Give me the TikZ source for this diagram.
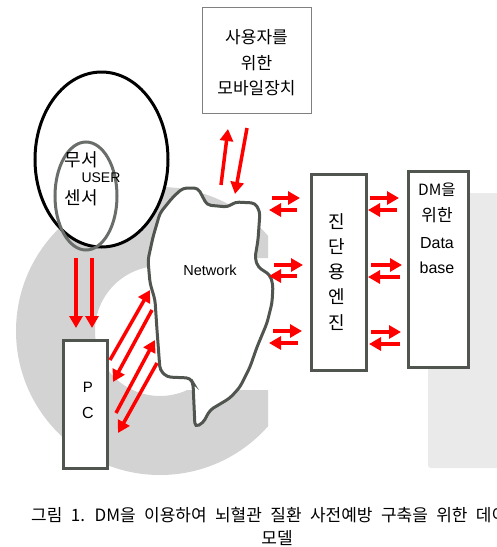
\documentclass[tikz,border=0pt]{standalone}
\usepackage{fontspec}
\setmainfont{Noto Sans CJK KR}
\newfontfamily\capfont[WordSpace=2.2]{Noto Sans CJK KR}
\newfontfamily\latfont{Liberation Sans}
\usetikzlibrary{arrows.meta}
\definecolor{boxgray}{HTML}{505550}
\definecolor{ringgray}{HTML}{D3D3D3}
\definecolor{panelgray}{HTML}{EAEAEA}
\tikzset{
  redarrow/.style={draw=red, line width=3.5pt, -{Triangle[length=12pt,width=13pt]}},
  thickbox/.style={draw=boxgray, line width=3pt, fill=white, inner sep=0pt},
  thinbox/.style={draw=gray, line width=1pt, fill=white, inner sep=0pt},
  lbl/.style={inner sep=0pt, font=\fontsize{17}{19}\selectfont},
}
\newcommand{\rarr}[3]{\coordinate (#1s) at #2; \coordinate (#1e) at #3; \draw[redarrow] (#1s) -- (#1e);}
\begin{document}
\begin{tikzpicture}[x=1pt,y=-1pt]
\useasboundingbox (0,0) rectangle (497,547);
\clip (0,0) rectangle (497,547);
\fill[white] (0,0) rectangle (497,547);
% background C ring
\begin{scope}
  \clip (0,0) -- (268,0) -- (268,258) -- (175,258) -- (175,390) -- (268,390) -- (268,547) -- (0,547) -- cycle;
  \fill[ringgray, even odd rule] (160,331) circle[radius=144pt] (160,331) circle[radius=65pt];
\end{scope}
\fill[panelgray, rounded corners=3pt] (428,193) rectangle (510,468);
% sensor ellipses
\draw[line width=3pt, fill=white] (101.5,159.5) ellipse[x radius=66.5pt, y radius=87.5pt];
\draw[line width=3pt, draw=boxgray!85] (86,196) ellipse[x radius=31pt, y radius=54pt];
\node[lbl, font=\fontsize{18}{20}\selectfont] (s1) at (81,160) {무서};
\node[lbl, font=\latfont\fontsize{14}{16}\selectfont] (user) at (101,178) {USER};
\node[lbl, font=\fontsize{18}{20}\selectfont] (s2) at (81,198) {센서};
% network cloud
\draw[draw=boxgray, line width=3pt, fill=white, rounded corners=4pt]
 (183,188) -- (198,188) -- (207,205) -- (228,207) -- (235,202) -- (255,203) -- (260,212)
 -- (258,240) -- (255,258) -- (258,267) -- (270,275) -- (273,285) -- (272,303) -- (267,323)
 -- (257,347) -- (250,367) -- (240,387) -- (230,398) -- (210,410) -- (203,423) -- (195,427)
 -- (193,383) -- (190,378) -- (167,377) -- (160,370) -- (157,330) -- (155,300) -- (150,283)
 -- (148,260) -- (153,237) -- (160,213) -- (173,197) -- cycle;
\node[lbl, font=\latfont\fontsize{14.5}{16}\selectfont] (net) at (210,270) {Network};
% mobile box
\node[thinbox, minimum width=109pt, minimum height=106pt] (mobile) at (256.5,60) {};
\node[lbl] (m1) at (256.5,37) {사용자를};
\node[lbl] (m2) at (256.5,63) {위한};
\node[lbl] (m3) at (256.5,88) {모바일장치};
% diagnosis engine box
\node[thickbox, minimum width=55pt, minimum height=196pt] (engine) at (338.5,272) {};
\foreach \t/\yy [count=\i] in {진/222, 단/247, 용/272, 엔/297, 진/323}
  \node[lbl, font=\fontsize{18}{20}\selectfont] (e\i) at (337,\yy) {\t};
% database box
\node[thickbox, minimum width=60pt, minimum height=196pt] (db) at (438,269) {};
\node[lbl, font=\fontsize{15.5}{16}\selectfont] (d1) at (437,190) {DM을};
\node[lbl, font=\fontsize{17}{18}\selectfont] (d2) at (437,215) {위한};
\node[lbl, font=\latfont\fontsize{16}{18}\selectfont] (d3) at (437,243) {Data};
\node[lbl, font=\latfont\fontsize{16}{18}\selectfont] (d4) at (437,268) {base};
% PC box
\node[thickbox, minimum width=44pt, minimum height=128pt] (pc) at (85,404) {};
\node[lbl, font=\latfont\fontsize{15}{16}\selectfont] (p1) at (88,387) {P};
\node[lbl, font=\latfont\fontsize{16}{18}\selectfont] (p2) at (88,413) {C};
% arrows
\rarr{sa}{(76,258)}{(76,328)}
\rarr{sb}{(92,258)}{(92,328)}
\rarr{mu}{(221,185)}{(228,129)}
\rarr{md}{(247,128)}{(235,194)}
\rarr{pa}{(110,360)}{(150,290)}
\rarr{pb}{(152,310)}{(113,382)}
\rarr{pc}{(116,413)}{(155,340)}
\rarr{pd}{(157,363)}{(118,433)}
\rarr{n1}{(272,198)}{(300,198)}
\rarr{n2}{(297,210)}{(269,210)}
\rarr{n3}{(274,265)}{(303,265)}
\rarr{n4}{(297,276)}{(269,276)}
\rarr{n5}{(273,331)}{(302,331)}
\rarr{n6}{(298,343)}{(269,343)}
\rarr{k1}{(370,198)}{(399,198)}
\rarr{k2}{(397,210)}{(368,210)}
\rarr{k3}{(371,265)}{(402,265)}
\rarr{k4}{(400,277)}{(368,277)}
\rarr{k5}{(371,332)}{(401,332)}
\rarr{k6}{(400,344)}{(369,344)}
% caption
\node[inner sep=0pt, anchor=west, font=\capfont\fontsize{17}{19}\selectfont] (cap1) at (31,515) {그림 1. DM을 이용하여 뇌혈관 질환 사전예방 구축을 위한 데이};
\node[inner sep=0pt, font=\capfont\fontsize{17}{19}\selectfont] (cap2) at (277,538) {모델};
\end{tikzpicture}
\end{document}
